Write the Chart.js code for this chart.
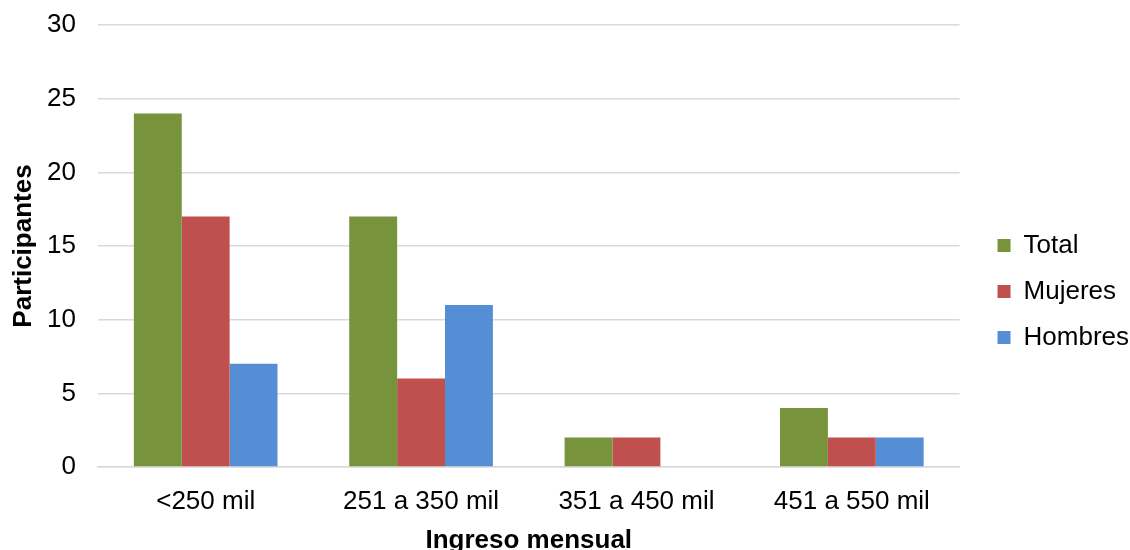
<!DOCTYPE html>
<html>
<head>
<meta charset="utf-8">
<script src="https://cdn.jsdelivr.net/npm/chart.js@4/dist/chart.umd.min.js"></script>
<style>
  html, body { margin: 0; padding: 0; background: #ffffff; }
  #wrap { width: 1130px; height: 550px; }
</style>
</head>
<body>
<div id="wrap"><canvas id="c" width="1130" height="550"></canvas></div>
<script>
// Monthly income brackets and participant counts
const categories = ['<250 mil', '251 a 350 mil', '351 a 450 mil', '451 a 550 mil'];
const total   = [24, 17, 2, 4];
const mujeres = [17, 6, 2, 2];
const hombres = [7, 11, 0, 2];
const yTicks  = [0, 5, 10, 15, 20, 25, 30];

const FONT = '"Liberation Sans", Arial, sans-serif';

// Widen the gap between the plot and the legend, and nudge the legend block
const legendSpacing = {
  id: 'legendSpacing',
  beforeLayout(chart) {
    const lg = chart.legend;
    if (lg && !lg._widened) {
      const fit = lg.fit;
      lg.fit = function () { fit.call(this); this.width += 9; };
      lg._widened = true;
    }
  },
  afterLayout(chart) {
    const lg = chart.legend;
    if (!lg) return;
    lg.left += 18; lg.right += 18;
    lg.top += 4; lg.bottom += 4;
  }
};

new Chart(document.getElementById('c'), {
  type: 'bar',
  data: {
    labels: categories,
    datasets: [
      { label: 'Total',   data: total,   backgroundColor: '#77933C' },
      { label: 'Mujeres', data: mujeres, backgroundColor: '#C0504D' },
      { label: 'Hombres', data: hombres, backgroundColor: '#558ED5' }
    ]
  },
  plugins: [legendSpacing],
  options: {
    responsive: false,
    animation: false,
    layout: { padding: { left: 0, right: 0, top: 25, bottom: 0 } },
    datasets: { bar: { categoryPercentage: 0.667, barPercentage: 1.0 } },
    plugins: {
      legend: {
        position: 'right',
        align: 'center',
        labels: {
          font: { family: FONT, size: 26 },
          color: '#000000',
          boxWidth: 13,
          boxHeight: 13,
          padding: 20
        }
      },
      tooltip: { enabled: false }
    },
    scales: {
      x: {
        grid: { display: false, drawTicks: false },
        border: { color: '#d9d9d9', width: 1.5 },
        ticks: { font: { family: FONT, size: 26 }, color: '#000000', padding: 19 },
        title: {
          display: true, text: 'Ingreso mensual',
          font: { family: FONT, size: 26, weight: 'bold' }, color: '#000000',
          padding: { top: 0, bottom: -6 }
        },
        afterFit: (s) => { s.height = 83; }
      },
      y: {
        min: 0, max: 30,
        afterBuildTicks: (axis) => { axis.ticks = yTicks.map(v => ({ value: v })); },
        grid: { color: '#d9d9d9', lineWidth: 1.5, drawTicks: false },
        border: { display: false },
        ticks: { font: { family: FONT, size: 26 }, color: '#000000', padding: 22 },
        title: {
          display: true, text: 'Participantes',
          font: { family: FONT, size: 26, weight: 'bold' }, color: '#000000',
          padding: { top: 8, bottom: 0 }
        },
        afterFit: (s) => { s.width = 98; s.paddingTop = 12; s.paddingBottom = 0; }
      }
    }
  }
});
</script>
</body>
</html>
